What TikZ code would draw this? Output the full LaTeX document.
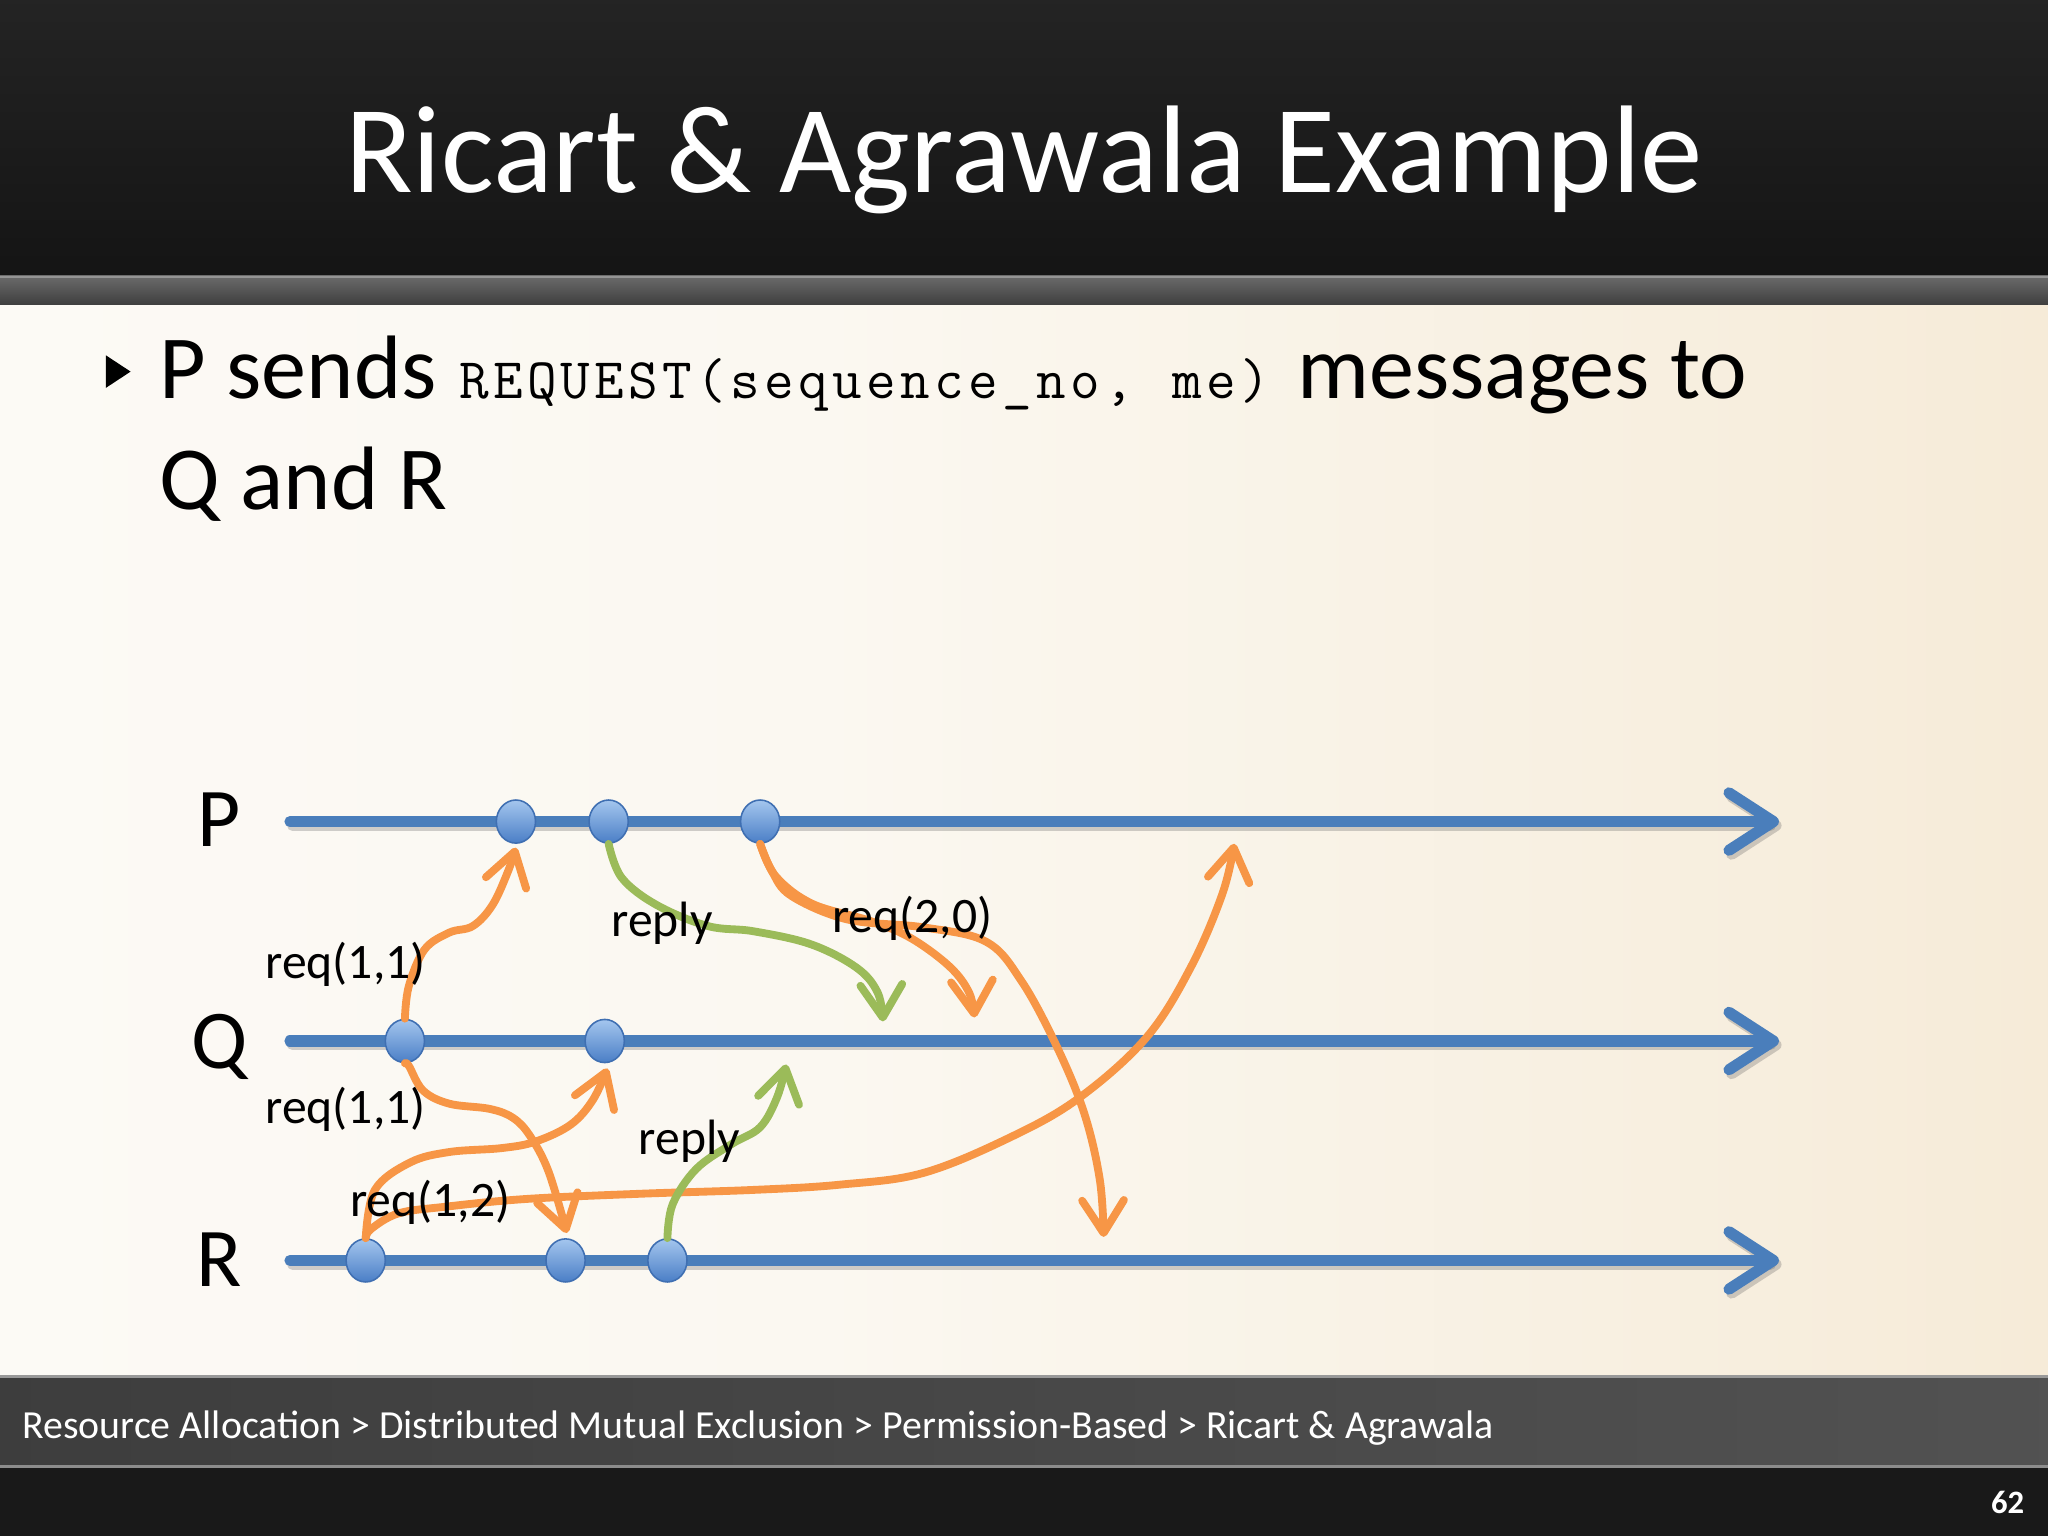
\documentclass[tikz,border=0pt]{standalone}
\usepackage{fontspec}
\setmainfont{Carlito}
\usetikzlibrary{arrows.meta,shapes.geometric}
\definecolor{pblue}{HTML}{4A7EBB}
\definecolor{porange}{HTML}{F79646}
\definecolor{pgreen}{HTML}{9BBB59}
\definecolor{dotedge}{HTML}{3F6FB2}
\definecolor{dottop}{HTML}{A4C6EE}
\definecolor{dotbot}{HTML}{4A7EC6}
\pgfdeclarehorizontalshading{slidebody}{100bp}{%
  color(0bp)=(rgb,255:red,253;green,252;blue,250);
  color(45bp)=(rgb,255:red,251;green,248;blue,241);
  color(75bp)=(rgb,255:red,246;green,235;blue,216);
  color(100bp)=(rgb,255:red,240;green,222;blue,192)}
\newcommand\monocell[1]{\makebox[26pt][c]{#1}}
\begin{document}
\begin{tikzpicture}[x=1pt,y=-1pt,
  tl/.style={line width=8.5pt, draw=pblue, line cap=round, -{Straight Barb[length=34pt,width=44pt,round]}},
  tlshadow/.style={line width=8.5pt, draw=black!60, opacity=0.3, line cap=round, -{Straight Barb[length=34pt,width=44pt,round]}, transform canvas={xshift=2pt,yshift=-3pt}},
  dot/.style={ellipse, minimum width=30pt, minimum height=33pt, inner sep=0pt, draw=dotedge, line width=1.2pt, top color=dottop, bottom color=dotbot},
  req/.style={line width=6pt, draw=porange, line cap=round, line join=round, -{Straight Barb[length=25pt,width=32pt,round]}},
  rep/.style={req, draw=pgreen},
  msg/.style={font=\fontsize{38}{46}\selectfont, inner sep=0pt, anchor=base west, text=black},
  proc/.style={font=\fontsize{64}{76}\selectfont, inner sep=0pt, anchor=base, text=black},
]
\useasboundingbox (0,0) rectangle (1568,1176);
% ---------- background ----------
\shade[top color=black!86, bottom color=black!92] (0,0) rectangle (1568,211);
\shade[top color=black!58, bottom color=black!76] (0,211) rectangle (1568,234);
\draw[black!42, line width=1.5pt] (0,212) -- (1568,212);
\shade[shading=slidebody] (0,234) rectangle (1568,1053);
\shade[left color=black!76, right color=black!68] (0,1053) rectangle (1568,1123);
\draw[black!40, line width=2pt] (0,1054) -- (1568,1054);
\draw[black!45, line width=2pt] (0,1123) -- (1568,1123);
\fill[black!90] (0,1124) rectangle (1568,1176);
% ---------- texts ----------
\node[font=\fontsize{95.5}{110}\selectfont, text=white, anchor=base, inner sep=0pt] (title) at (784,147) {Ricart \& Agrawala Example};
\fill[black] (81,272) -- (100,284.5) -- (81,297) -- cycle;
\node[font=\fontsize{69}{85}\selectfont, anchor=base west, inner sep=0pt] (body1) at (122,305)
  {P sends {\ttfamily\fontsize{44}{50}\selectfont\monocell{R}\monocell{E}\monocell{Q}\monocell{U}\monocell{E}\monocell{S}\monocell{T}\monocell{(}\monocell{s}\monocell{e}\monocell{q}\monocell{u}\monocell{e}\monocell{n}\monocell{c}\monocell{e}\monocell{\_}\monocell{n}\monocell{o}\monocell{,}\monocell{\ }\monocell{m}\monocell{e}\monocell{)}}\hspace{4pt} messages to};
\node[font=\fontsize{69}{85}\selectfont, anchor=base west, inner sep=0pt] (body2) at (122,390) {Q and R};
\node[font=\fontsize{30.5}{36}\selectfont, text=white, anchor=base west, inner sep=0pt] (footer) at (17,1101)
  {Resource Allocation > Distributed Mutual Exclusion > Permission-Based > Ricart \& Agrawala};
\node[font=\bfseries\fontsize{25}{30}\selectfont, text=white, anchor=base east, inner sep=0pt] (pnum) at (1550,1159) {62};
% ---------- process labels ----------
\node[proc] (labP) at (168,648) {P};
\node[proc] (labQ) at (168,818) {Q};
\node[proc] (labR) at (168,985) {R};
% ---------- timelines ----------
\coordinate (Ps) at (222,629); \coordinate (Pe) at (1362,629);
\coordinate (Qs) at (222,797); \coordinate (Qe) at (1362,797);
\coordinate (Rs) at (222,965); \coordinate (Re) at (1362,965);
\draw[tlshadow] (Ps) -- (Pe);
\draw[tlshadow] (Qs) -- (Qe);
\draw[tlshadow] (Rs) -- (Re);
\draw[tl] (Ps) -- (Pe);
\draw[tl] (Qs) -- (Qe);
\draw[tl] (Rs) -- (Re);
% ---------- events ----------
\node[dot] (p1) at (395,629) {};
\node[dot] (p2) at (466,629) {};
\node[dot] (p3) at (582,629) {};
\node[dot] (q1) at (310,797) {};
\node[dot] (q2) at (463,797) {};
\node[dot] (r1) at (280,965) {};
\node[dot] (r2) at (433,965) {};
\node[dot] (r3) at (511,965) {};
% ---------- arrow ends ----------
\coordinate (tP1) at (395,649);
\coordinate (tR2) at (434,944);
\coordinate (tQ2) at (465,818);
\coordinate (tPx) at (945,646);
\coordinate (tQg) at (676,782);
\coordinate (tQo) at (746,779);
\coordinate (tRo) at (845,947);
\coordinate (tQg2) at (602,815);
% ---------- messages ----------
\draw[req] plot[smooth, tension=0.6] coordinates {(q1.north) (313,755) (325,727) (344,714) (362,709) (377,693) (389,667) (tP1)};
\draw[req] plot[smooth, tension=0.6] coordinates {(q1.south) (313,816) (324,835) (344,845) (375,849) (393,856) (406,870) (420,897) (tR2)};
\draw[req] plot[smooth, tension=0.6] coordinates {(r1.north) (287,911) (314,890) (344,882) (384,879) (410,874) (437,861) (454,842) (tQ2)};
\draw[req] plot[smooth, tension=0.6] coordinates {(r1.north) (284,941) (305,929) (340,924) (402,918) (489,914) (577,911) (643,907) (707,898) (775,870) (827,840) (878,794) (912,740) (936,684) (tPx)};
\draw[rep] plot[smooth, tension=0.6] coordinates {(p2.south) (476,672) (503,693) (542,709) (577,713) (621,723) (656,741) (672,760) (tQg)};
\draw[req] plot[smooth, tension=0.6] coordinates {(p3.south) (594,671) (622,692) (666,705) (697,718) (727,740) (742,760) (tQo)};
\draw[req] plot[smooth, tension=0.6] coordinates {(p3.south) (591,667) (606,686) (649,704) (707,710) (755,721) (782,751) (809,801) (830,852) (842,903) (tRo)};
\draw[rep] plot[smooth, tension=0.6] coordinates {(r3.north) (515,922) (533,895) (560,876) (582,863) (595,840) (tQg2)};
% ---------- message labels ----------
\node[msg] (m1) at (203,749) {req(1,1)};
\node[msg] (m2) at (203,860) {req(1,1)};
\node[msg] (m3) at (268,931) {req(1,2)};
\node[msg] (m4) at (468,717) {reply};
\node[msg] (m5) at (489,884) {reply};
\node[msg] (m6) at (637,714) {req(2,0)};
\end{tikzpicture}
\end{document}
